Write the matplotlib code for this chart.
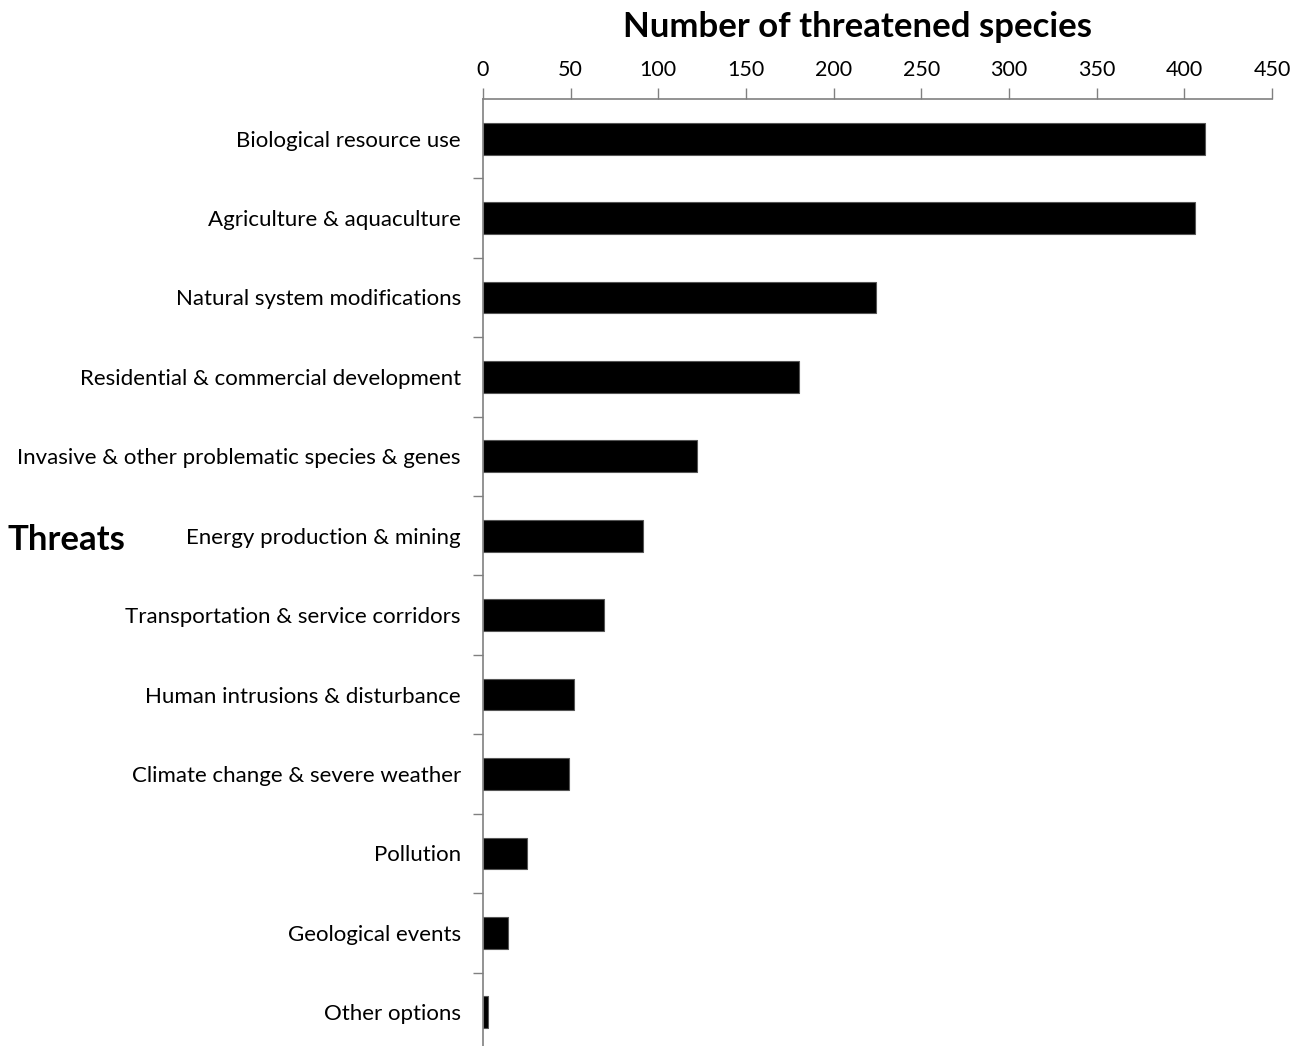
import numpy as np
import matplotlib
matplotlib.use("Agg")
import matplotlib.pyplot as plt

# Data
threats = ["Biological resource use", "Agriculture & aquaculture",
           "Natural system modifications", "Residential & commercial development",
           "Invasive & other problematic species & genes", "Energy production & mining",
           "Transportation & service corridors", "Human intrusions & disturbance",
           "Climate change & severe weather", "Pollution", "Geological events",
           "Other options"]
n_species = [412, 406, 224, 180, 122, 91, 69, 52, 49, 25, 14, 3]
xticks = [0, 50, 100, 150, 200, 250, 300, 350, 400, 450]

plt.rcParams["font.family"] = ["Lato", "DejaVu Sans"]

fig = plt.figure(figsize=(12.93, 10.46), dpi=100)
ax = fig.add_axes([483/1293, -0.0057, (1272-483)/1293, 0.9111])

y = np.arange(len(threats))
ax.barh(y, n_species, height=0.4, color="black", edgecolor="#555555", linewidth=0.8)

ax.set_xlim(0, 450)
ax.set_ylim(len(threats) - 0.5, -0.5)

# x axis on top
ax.xaxis.tick_top()
ax.set_xticks(xticks)
ax.tick_params(axis="x", direction="out", length=8, width=1, color="#808080",
               labelsize=15.5, pad=6, labelcolor="black")

# y labels at centres, ticks at the boundaries
ax.set_yticks(y)
ax.set_yticklabels(threats)
ax.tick_params(axis="y", which="major", length=0, pad=16, labelsize=16)
ax.set_yticks(np.arange(0.5, len(threats) - 1, 1.0), minor=True)
ax.tick_params(axis="y", which="minor", direction="out", length=7, width=1, color="#808080")

for s in ["right", "bottom"]:
    ax.spines[s].set_visible(False)
for s in ["top", "left"]:
    ax.spines[s].set_color("#808080")
    ax.spines[s].set_linewidth(1.2)

fig.text(858/1293, 1 - 27/1046, "Number of threatened species", ha="center", va="center",
         fontsize=25, fontweight="bold")
fig.text(8/1293, 1 - 540/1046, "Threats", ha="left", va="center",
         fontsize=25, fontweight="bold")

fig.savefig("out.png", dpi=100)
